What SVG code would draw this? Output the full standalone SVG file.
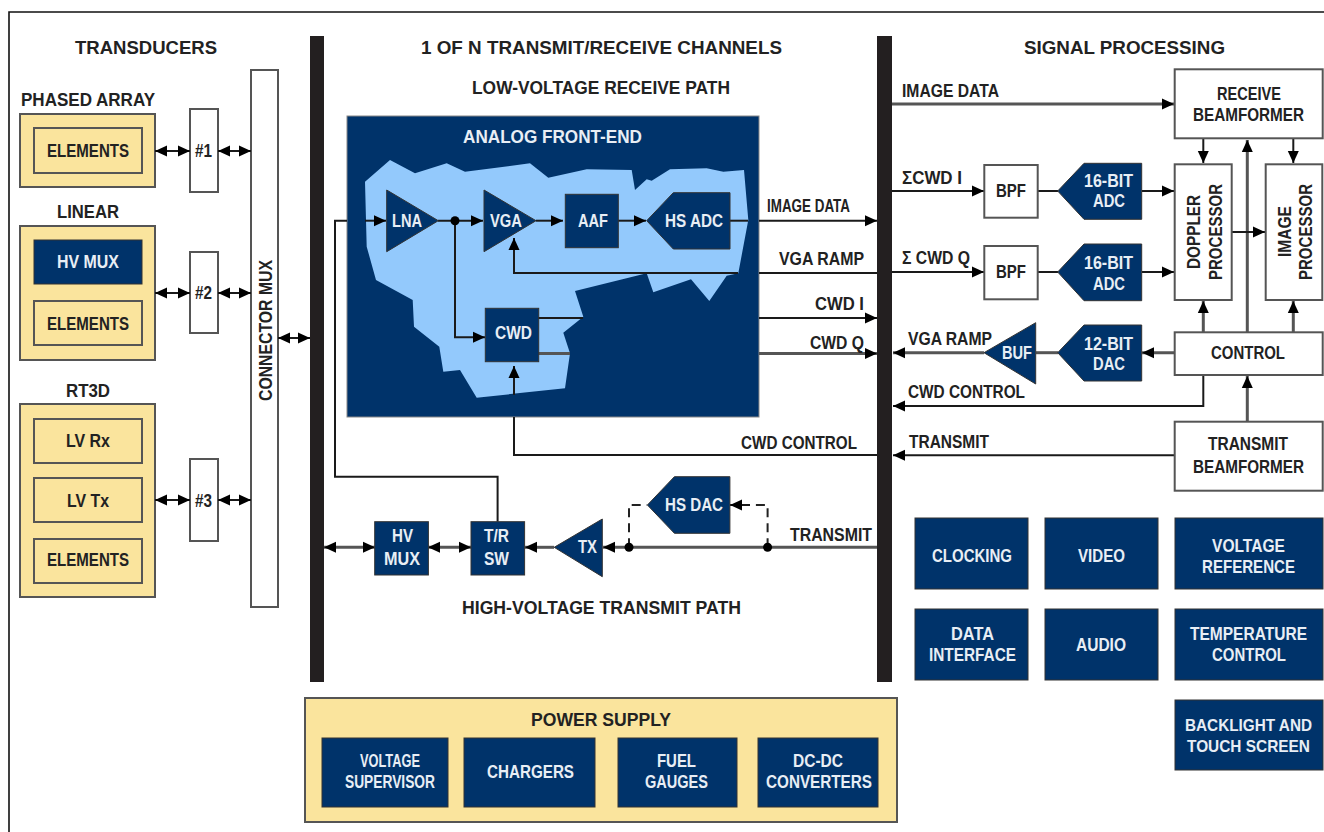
<svg xmlns="http://www.w3.org/2000/svg" width="1324" height="832" viewBox="0 0 1324 832">
<style>
text{font-family:"Liberation Sans",Arial,sans-serif;font-weight:700;font-size:18px;fill:#222;}
text.w{fill:#e8eef5;}
text.h{font-size:19px;}
text.s{font-size:16.5px;}
.n{fill:#00336a;stroke:#333;stroke-width:1;}
.o{fill:#fff;stroke:#555;stroke-width:2;}
.y{fill:#fae49d;stroke:#555;stroke-width:2;}
.l{fill:none;stroke:#1a1a1a;stroke-width:2;}
.g{fill:none;stroke:#555;stroke-width:3;}
.d{fill:none;stroke:#222;stroke-width:2;stroke-dasharray:9 6;}
.e{marker-end:url(#a);}
.b{marker-end:url(#a);marker-start:url(#a);}
</style>
<defs>
<marker id="a" markerUnits="userSpaceOnUse" markerWidth="12" markerHeight="12" refX="12" refY="6" orient="auto-start-reverse"><path d="M0 0.5L12 6L0 11.5Z" fill="#000"/></marker>
</defs>
<rect width="1324" height="832" fill="#fff"/>
<path d="M1324 12H9V832" fill="none" stroke="#111" stroke-width="1.6"/>
<g id="bars">
<rect x="310" y="36" width="14" height="646" fill="#231f20"/>
<rect x="877" y="36" width="15" height="646" fill="#231f20"/>
</g>
<g id="headings">
<text class="h" x="75" y="54" textLength="142" lengthAdjust="spacingAndGlyphs">TRANSDUCERS</text>
<text class="h" x="421" y="54" textLength="361" lengthAdjust="spacingAndGlyphs">1 OF N TRANSMIT/RECEIVE CHANNELS</text>
<text class="h" x="1024" y="54" textLength="201" lengthAdjust="spacingAndGlyphs">SIGNAL PROCESSING</text>
<text class="h" x="472" y="94" textLength="258" lengthAdjust="spacingAndGlyphs">LOW-VOLTAGE RECEIVE PATH</text>
<text class="h" x="462" y="614" textLength="279" lengthAdjust="spacingAndGlyphs">HIGH-VOLTAGE TRANSMIT PATH</text>
</g>
<g id="phased-array">
<text x="21" y="106" textLength="134" lengthAdjust="spacingAndGlyphs">PHASED ARRAY</text>
<rect class="y" x="20" y="114" width="135" height="73"/>
<rect class="y" x="34" y="128" width="108" height="45"/>
<text x="47" y="157" textLength="82" lengthAdjust="spacingAndGlyphs">ELEMENTS</text>
</g>
<g id="linear">
<text x="57" y="218" textLength="62" lengthAdjust="spacingAndGlyphs">LINEAR</text>
<rect class="y" x="20" y="226" width="135" height="134"/>
<rect class="n" x="34" y="240" width="108" height="44"/>
<text class="w" x="57" y="268" textLength="62" lengthAdjust="spacingAndGlyphs">HV MUX</text>
<rect class="y" x="34" y="301" width="108" height="44"/>
<text x="47" y="330" textLength="82" lengthAdjust="spacingAndGlyphs">ELEMENTS</text>
</g>
<g id="rt3d">
<text x="66" y="397" textLength="44" lengthAdjust="spacingAndGlyphs">RT3D</text>
<rect class="y" x="20" y="404" width="135" height="193"/>
<rect class="y" x="34" y="419" width="108" height="44"/>
<text x="66" y="447" textLength="44" lengthAdjust="spacingAndGlyphs">LV Rx</text>
<rect class="y" x="34" y="478" width="108" height="44"/>
<text x="67" y="507" textLength="42" lengthAdjust="spacingAndGlyphs">LV Tx</text>
<rect class="y" x="34" y="539" width="108" height="44"/>
<text x="47" y="566" textLength="82" lengthAdjust="spacingAndGlyphs">ELEMENTS</text>
</g>
<g id="ch1"><rect class="o" x="190" y="109" width="28" height="83"/><text x="195" y="157" textLength="17" lengthAdjust="spacingAndGlyphs">#1</text></g>
<g id="ch2"><rect class="o" x="190" y="252" width="28" height="81"/><text x="195" y="299" textLength="17" lengthAdjust="spacingAndGlyphs">#2</text></g>
<g id="ch3"><rect class="o" x="190" y="459" width="28" height="82"/><text x="195" y="507" textLength="17" lengthAdjust="spacingAndGlyphs">#3</text></g>
<g id="connector-mux"><rect class="o" x="251" y="70" width="27" height="537"/><text transform="translate(272 401) rotate(-90)" textLength="141" lengthAdjust="spacingAndGlyphs">CONNECTOR MUX</text></g>
<g id="analog-front-end">
<rect x="347" y="116" width="412" height="301" fill="#00336a" stroke="#888" stroke-width="1"/>
<polygon fill="#93c9fc" points="365,181.7 390,160 415,173.3 446.7,163.3 465,171.7 530,163.3 548.3,177.7 586.7,169.3 631.7,170 635,190 646.7,179.3 651.7,180.7 670,169.3 706.7,168.3 723.3,171.7 744,170 748.3,220 738.3,273.3 726.7,275.7 709.3,301 691,279.3 653.3,292.3 646.7,273.3 575,291 583.3,316.7 563.3,332.7 570,353.3 565,388.3 476.7,397.7 460,370 443.3,371.7 439.3,346.7 414,326.7 412.7,300 376,280 366.7,246.7"/>
<text class="w" x="463" y="143" textLength="179" lengthAdjust="spacingAndGlyphs">ANALOG FRONT-END</text>
</g>
<g id="connectors">
<path class="l b" d="M155 151H190"/><path class="l b" d="M218 151H251"/>
<path class="l b" d="M155 293H190"/><path class="l b" d="M218 293H251"/>
<path class="l b" d="M155 500H190"/><path class="l b" d="M218 500H251"/>
<path class="l b" d="M278 338H310"/>
<path class="l" d="M347 220.7H335V476.7H497.6V521.7"/>
<path class="l e" d="M365 220.7H386"/>
<path class="l e" d="M438 220.7H483"/>
<path class="l e" d="M536 220.7H563"/>
<path class="l e" d="M618 220.7H646"/>
<path class="l e" d="M455 220.7V337.3H485"/>
<path class="l" d="M730 220.7H748"/>
<path class="l e" d="M759 220.7H877"/>
<path class="l" d="M877 273H759"/>
<path class="l e" d="M738 273H514V238"/>
<path class="l" d="M538 318H583"/>
<path class="l e" d="M759 318H877"/>
<path class="g" d="M538 353.5H570"/>
<path class="g e" d="M759 353.5H877"/>
<path class="l e" d="M514 395V366"/>
<path class="l" d="M877 455H514V417"/>
<path class="g b" d="M324 547.3H375"/>
<path class="g b" d="M428 547.3H471"/>
<path class="g e" d="M554 547.3H525"/>
<path class="g e" d="M877 547.3H603"/>
<path class="d" d="M629 547.3V505H647"/>
<path class="d" d="M767.6 547.3V505H748"/>
<path class="l e" d="M750 505H730"/>
<circle cx="455" cy="220.7" r="4.5" fill="#000"/>
<circle cx="629" cy="547.3" r="4.5" fill="#000"/>
<circle cx="767.6" cy="547.3" r="4.5" fill="#000"/>
<path class="g e" d="M892 104H1174"/>
<path class="l e" d="M892 191H984"/>
<path class="l" d="M1038 191H1058"/>
<path class="l e" d="M1142 191H1174"/>
<path class="l e" d="M892 272H984"/>
<path class="l" d="M1038 272H1058"/>
<path class="l e" d="M1142 272H1174"/>
<path class="l e" d="M1203.3 138V163"/>
<path class="l e" d="M1293.3 138V163"/>
<path class="g e" d="M1247.3 332V140"/>
<path class="l e" d="M1232 232H1265"/>
<path class="g e" d="M1203.3 332V301"/>
<path class="g e" d="M1293.3 332V301"/>
<path class="g e" d="M1175 352.7H1142"/>
<path class="g" d="M1036 352.7H1058"/>
<path class="g e" d="M984 352.7H893"/>
<path class="l e" d="M1203.3 375V406H893"/>
<path class="g e" d="M1247.3 422V376"/>
<path class="l e" d="M1175 455.3H893"/>
</g>
<g id="connector-labels">
<text x="767" y="212" textLength="83" lengthAdjust="spacingAndGlyphs">IMAGE DATA</text>
<text x="779" y="265" textLength="85" lengthAdjust="spacingAndGlyphs">VGA RAMP</text>
<text x="815" y="310" textLength="49" lengthAdjust="spacingAndGlyphs">CWD I</text>
<text x="810" y="349" textLength="54" lengthAdjust="spacingAndGlyphs">CWD Q</text>
<text x="741" y="449" textLength="116" lengthAdjust="spacingAndGlyphs">CWD CONTROL</text>
<text x="790" y="541" textLength="82" lengthAdjust="spacingAndGlyphs">TRANSMIT</text>
<text x="902" y="97" textLength="97" lengthAdjust="spacingAndGlyphs">IMAGE DATA</text>
<text x="902" y="184" textLength="60" lengthAdjust="spacingAndGlyphs">ΣCWD I</text>
<text x="902" y="264" textLength="68" lengthAdjust="spacingAndGlyphs">Σ CWD Q</text>
<text x="908" y="345" textLength="84" lengthAdjust="spacingAndGlyphs">VGA RAMP</text>
<text x="908" y="398" textLength="117" lengthAdjust="spacingAndGlyphs">CWD CONTROL</text>
<text x="909" y="448" textLength="80" lengthAdjust="spacingAndGlyphs">TRANSMIT</text>
</g>
<g id="lna"><polygon class="n" points="386.7,190 438.3,220.7 386.7,251.7"/><text class="w" x="392" y="227" textLength="30" lengthAdjust="spacingAndGlyphs">LNA</text></g>
<g id="vga"><polygon class="n" points="484,190 536,220.7 484,251.7"/><text class="w" x="490" y="227" textLength="32" lengthAdjust="spacingAndGlyphs">VGA</text></g>
<g id="aaf"><rect class="n" x="565.3" y="194.3" width="53" height="53.4"/><text class="w" x="578" y="227" textLength="30" lengthAdjust="spacingAndGlyphs">AAF</text></g>
<g id="hs-adc"><polygon class="n" points="646.7,220.7 673.3,192.7 730,192.7 730,249 673.3,249"/><text class="w" x="665" y="227" textLength="58" lengthAdjust="spacingAndGlyphs">HS ADC</text></g>
<g id="cwd"><rect class="n" x="485.3" y="308.3" width="53.4" height="53.4"/><text class="w" x="495" y="339" textLength="37" lengthAdjust="spacingAndGlyphs">CWD</text></g>
<g id="hv-mux"><rect class="n" x="374.7" y="521.7" width="53.7" height="53.3"/><text class="w" x="392" y="542" textLength="21" lengthAdjust="spacingAndGlyphs">HV</text><text class="w" x="384" y="565" textLength="36" lengthAdjust="spacingAndGlyphs">MUX</text></g>
<g id="tr-sw"><rect class="n" x="471" y="521.7" width="53.6" height="53.3"/><text class="w" x="484" y="542" textLength="25" lengthAdjust="spacingAndGlyphs">T/R</text><text class="w" x="484" y="565" textLength="25" lengthAdjust="spacingAndGlyphs">SW</text></g>
<g id="tx"><polygon class="n" points="554.2,547.3 602.3,519 602.3,576.7"/><text class="w" x="578" y="553" textLength="19" lengthAdjust="spacingAndGlyphs">TX</text></g>
<g id="hs-dac"><polygon class="n" points="647.4,505 674.4,476.7 729.9,476.7 729.9,533.3 674.4,533.3"/><text class="w" x="665" y="511" textLength="58" lengthAdjust="spacingAndGlyphs">HS DAC</text></g>
<g id="receive-beamformer"><rect class="o" x="1174.7" y="69.3" width="148" height="69"/><text x="1217" y="100" textLength="64" lengthAdjust="spacingAndGlyphs">RECEIVE</text><text x="1193" y="121" textLength="111" lengthAdjust="spacingAndGlyphs">BEAMFORMER</text></g>
<g id="bpf-i"><rect class="o" x="984.3" y="165" width="53.4" height="52.7"/><text x="996" y="197" textLength="30" lengthAdjust="spacingAndGlyphs">BPF</text></g>
<g id="bpf-q"><rect class="o" x="984.3" y="246" width="53.4" height="53.3"/><text x="996" y="278" textLength="30" lengthAdjust="spacingAndGlyphs">BPF</text></g>
<g id="adc-i"><polygon class="n" points="1057.7,191 1084,163.3 1141.7,163.3 1141.7,219.3 1084,219.3"/><text class="w" x="1084" y="187" textLength="49" lengthAdjust="spacingAndGlyphs">16-BIT</text><text class="w" x="1093" y="207" textLength="32" lengthAdjust="spacingAndGlyphs">ADC</text></g>
<g id="adc-q"><polygon class="n" points="1057.7,272 1084,244 1141.7,244 1141.7,300.7 1084,300.7"/><text class="w" x="1084" y="269" textLength="49" lengthAdjust="spacingAndGlyphs">16-BIT</text><text class="w" x="1093" y="290" textLength="32" lengthAdjust="spacingAndGlyphs">ADC</text></g>
<g id="doppler-processor"><rect class="o" x="1174.7" y="164.3" width="57" height="135.7"/><text transform="translate(1200 269) rotate(-90)" textLength="74" lengthAdjust="spacingAndGlyphs">DOPPLER</text><text transform="translate(1222 280) rotate(-90)" textLength="96" lengthAdjust="spacingAndGlyphs">PROCESSOR</text></g>
<g id="image-processor"><rect class="o" x="1265.7" y="164.3" width="56.6" height="135.7"/><text transform="translate(1291 257) rotate(-90)" textLength="51" lengthAdjust="spacingAndGlyphs">IMAGE</text><text transform="translate(1312 280) rotate(-90)" textLength="96" lengthAdjust="spacingAndGlyphs">PROCESSOR</text></g>
<g id="control"><rect class="o" x="1174.7" y="332.3" width="148" height="42.7"/><text x="1211" y="359" textLength="74" lengthAdjust="spacingAndGlyphs">CONTROL</text></g>
<g id="dac"><polygon class="n" points="1057.7,352.7 1084,325 1141.7,325 1141.7,381 1084,381"/><text class="w" x="1084" y="350" textLength="49" lengthAdjust="spacingAndGlyphs">12-BIT</text><text class="w" x="1093" y="370" textLength="32" lengthAdjust="spacingAndGlyphs">DAC</text></g>
<g id="buf"><polygon class="n" points="984,352.7 1035.7,322.7 1035.7,384"/><text class="w" x="1002" y="359" textLength="30" lengthAdjust="spacingAndGlyphs">BUF</text></g>
<g id="transmit-beamformer"><rect class="o" x="1174.7" y="421.7" width="148" height="69"/><text x="1208" y="450" textLength="80" lengthAdjust="spacingAndGlyphs">TRANSMIT</text><text x="1193" y="473" textLength="111" lengthAdjust="spacingAndGlyphs">BEAMFORMER</text></g>
<g id="clocking"><rect class="n" x="915" y="518" width="113" height="71"/><text class="w" x="932" y="562" textLength="80" lengthAdjust="spacingAndGlyphs">CLOCKING</text></g>
<g id="video"><rect class="n" x="1045" y="518" width="113" height="71"/><text class="w" x="1078" y="562" textLength="47" lengthAdjust="spacingAndGlyphs">VIDEO</text></g>
<g id="voltage-reference"><rect class="n" x="1175" y="518" width="148" height="71"/><text class="w" x="1212" y="552" textLength="73" lengthAdjust="spacingAndGlyphs">VOLTAGE</text><text class="w" x="1202" y="573" textLength="93" lengthAdjust="spacingAndGlyphs">REFERENCE</text></g>
<g id="data-interface"><rect class="n" x="915" y="609" width="113" height="71"/><text class="w" x="951" y="640" textLength="43" lengthAdjust="spacingAndGlyphs">DATA</text><text class="w" x="929" y="661" textLength="87" lengthAdjust="spacingAndGlyphs">INTERFACE</text></g>
<g id="audio"><rect class="n" x="1045" y="609" width="113" height="71"/><text class="w" x="1076" y="651" textLength="50" lengthAdjust="spacingAndGlyphs">AUDIO</text></g>
<g id="temperature-control"><rect class="n" x="1175" y="609" width="148" height="71"/><text class="w" x="1190" y="640" textLength="117" lengthAdjust="spacingAndGlyphs">TEMPERATURE</text><text class="w" x="1212" y="661" textLength="74" lengthAdjust="spacingAndGlyphs">CONTROL</text></g>
<g id="backlight"><rect class="n" x="1175" y="700" width="148" height="70"/><text class="w s" x="1185" y="731" textLength="127" lengthAdjust="spacingAndGlyphs">BACKLIGHT AND</text><text class="w s" x="1187" y="752" textLength="123" lengthAdjust="spacingAndGlyphs">TOUCH SCREEN</text></g>
<g id="power-supply">
<rect class="y" x="305" y="698" width="592" height="124"/>
<text x="531" y="726" textLength="140" lengthAdjust="spacingAndGlyphs">POWER SUPPLY</text>
</g>
<g id="voltage-supervisor"><rect class="n" x="322" y="738" width="126" height="69"/><text class="w" x="360" y="767" textLength="60" lengthAdjust="spacingAndGlyphs">VOLTAGE</text><text class="w" x="345" y="788" textLength="90" lengthAdjust="spacingAndGlyphs">SUPERVISOR</text></g>
<g id="chargers"><rect class="n" x="464" y="738" width="131" height="69"/><text class="w" x="487" y="778" textLength="87" lengthAdjust="spacingAndGlyphs">CHARGERS</text></g>
<g id="fuel-gauges"><rect class="n" x="618" y="738" width="119" height="69"/><text class="w" x="657" y="767" textLength="39" lengthAdjust="spacingAndGlyphs">FUEL</text><text class="w" x="645" y="788" textLength="63" lengthAdjust="spacingAndGlyphs">GAUGES</text></g>
<g id="dc-dc"><rect class="n" x="758" y="738" width="120" height="69"/><text class="w" x="793" y="767" textLength="50" lengthAdjust="spacingAndGlyphs">DC-DC</text><text class="w" x="766" y="788" textLength="106" lengthAdjust="spacingAndGlyphs">CONVERTERS</text></g>
</svg>
